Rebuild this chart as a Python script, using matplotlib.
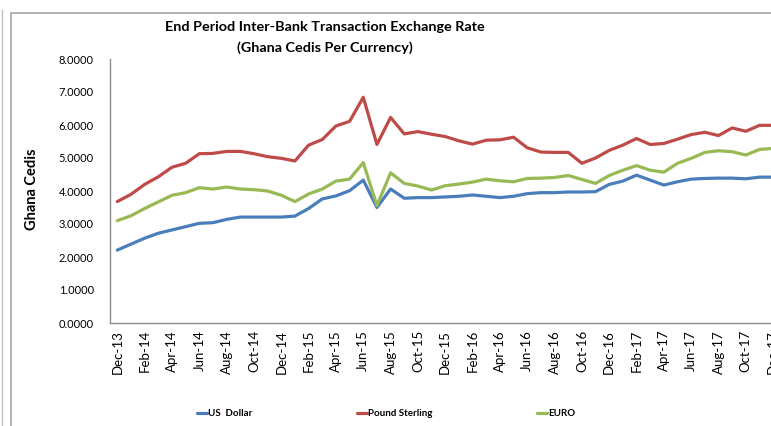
import matplotlib
matplotlib.use("Agg")
import matplotlib.pyplot as plt
from matplotlib.patches import Rectangle
from matplotlib.lines import Line2D

plt.rcParams['font.family'] = ['Lato', 'DejaVu Sans']

months = ["Dec-13", "Jan-14", "Feb-14", "Mar-14", "Apr-14", "May-14", "Jun-14", "Jul-14",
          "Aug-14", "Sep-14", "Oct-14", "Nov-14", "Dec-14", "Jan-15", "Feb-15", "Mar-15",
          "Apr-15", "May-15", "Jun-15", "Jul-15", "Aug-15", "Sep-15", "Oct-15", "Nov-15",
          "Dec-15", "Jan-16", "Feb-16", "Mar-16", "Apr-16", "May-16", "Jun-16", "Jul-16",
          "Aug-16", "Sep-16", "Oct-16", "Nov-16", "Dec-16", "Jan-17", "Feb-17", "Mar-17",
          "Apr-17", "May-17", "Jun-17", "Jul-17", "Aug-17", "Sep-17", "Oct-17", "Nov-17",
          "Dec-17"]

usd = [2.21, 2.39, 2.57, 2.72, 2.82, 2.92, 3.02, 3.04, 3.14, 3.21, 3.21, 3.21, 3.21,
       3.24, 3.47, 3.76, 3.85, 4.01, 4.33, 3.50, 4.06, 3.78, 3.80, 3.80, 3.82,
       3.84, 3.88, 3.84, 3.80, 3.84, 3.92, 3.95, 3.95, 3.97, 3.97, 3.98, 4.20,
       4.30, 4.48, 4.33, 4.18, 4.28, 4.36, 4.38, 4.39, 4.39, 4.37, 4.42, 4.42]

gbp = [3.68, 3.90, 4.20, 4.43, 4.72, 4.84, 5.13, 5.14, 5.20, 5.20, 5.13, 5.04, 4.99,
       4.91, 5.39, 5.56, 5.97, 6.11, 6.84, 5.41, 6.23, 5.73, 5.80, 5.72, 5.65,
       5.52, 5.42, 5.54, 5.55, 5.63, 5.31, 5.18, 5.17, 5.17, 4.84, 5.00, 5.23,
       5.39, 5.59, 5.41, 5.44, 5.57, 5.71, 5.78, 5.68, 5.91, 5.81, 5.99, 5.99]

eur = [3.10, 3.25, 3.47, 3.67, 3.87, 3.95, 4.10, 4.06, 4.12, 4.06, 4.04, 4.00, 3.87,
       3.68, 3.91, 4.06, 4.30, 4.36, 4.86, 3.56, 4.55, 4.23, 4.15, 4.03, 4.16,
       4.21, 4.27, 4.36, 4.31, 4.28, 4.38, 4.39, 4.41, 4.47, 4.35, 4.23, 4.47,
       4.63, 4.77, 4.63, 4.57, 4.84, 4.99, 5.17, 5.22, 5.19, 5.09, 5.26, 5.29]

series_names = ["US  Dollar", "Pound Sterling", "EURO"]
colors = ["#4A7EBB", "#BE4B48", "#98B954"]
yticks = [0, 1, 2, 3, 4, 5, 6, 7, 8]

W, H = 771, 426
fig = plt.figure(figsize=(W / 100, H / 100), dpi=100)

# chart frame and outer border
fig.patches.append(Rectangle((11 / W, -0.1), 1.2, 1 - 13 / H + 0.1, transform=fig.transFigure,
                             fill=False, edgecolor="#A6A6A6", linewidth=1.2))
fig.lines.append(Line2D([2 / W, 2 / W], [0, 1 - 10 / H], transform=fig.transFigure,
                        color="#BFBFBF", linewidth=1.0))

left = 110.5 / W
bottom = 1 - 323 / H
top = 1 - 59 / H
x_end = 117 + 48.5 * 13.67
ax = fig.add_axes([left, bottom, x_end / W - left, top - bottom])

x = list(range(len(months)))
for vals, name, c in zip([usd, gbp, eur], series_names, colors):
    ax.plot(x, vals, color=c, linewidth=2.3, label=name, solid_capstyle="round",
            solid_joinstyle="round")

ax.set_xlim(-0.5, len(months) - 0.5)
ax.set_ylim(0, 8)
ax.set_yticks(yticks)
ax.set_yticklabels([f"{v:.4f}" for v in yticks], fontsize=8)
ax.set_xticks(x[::2])
ax.set_xticklabels(months[::2], rotation=90, fontsize=9.5)
ax.tick_params(axis="both", length=0, pad=5)
ax.tick_params(axis="y", pad=12)
for s in ["top", "right"]:
    ax.spines[s].set_visible(False)
for s in ["left", "bottom"]:
    ax.spines[s].set_color("#8C8C8C")
    ax.spines[s].set_linewidth(1.0)

fig.text(325 / W, 1 - 27 / H, "End Period Inter-Bank Transaction Exchange Rate",
         ha="center", va="center", fontsize=10.4, fontweight="bold")
fig.text(325 / W, 1 - 48 / H, "(Ghana Cedis Per Currency)",
         ha="center", va="center", fontsize=10.4, fontweight="bold")
fig.text(32 / W, 1 - 189 / H, "Ghana Cedis", rotation=90, ha="center", va="center",
         fontsize=10.5, fontweight="bold")

handles, labels = ax.get_legend_handles_labels()
fig.legend(handles, labels, loc="center left", bbox_to_anchor=(197 / W, 1 - 414 / H),
           ncol=3, frameon=False, prop={"weight": "bold", "size": 7},
           handlelength=1.0, handletextpad=0.1, columnspacing=10.8, borderaxespad=0,
           borderpad=0)

fig.savefig("out.png", dpi=100)
